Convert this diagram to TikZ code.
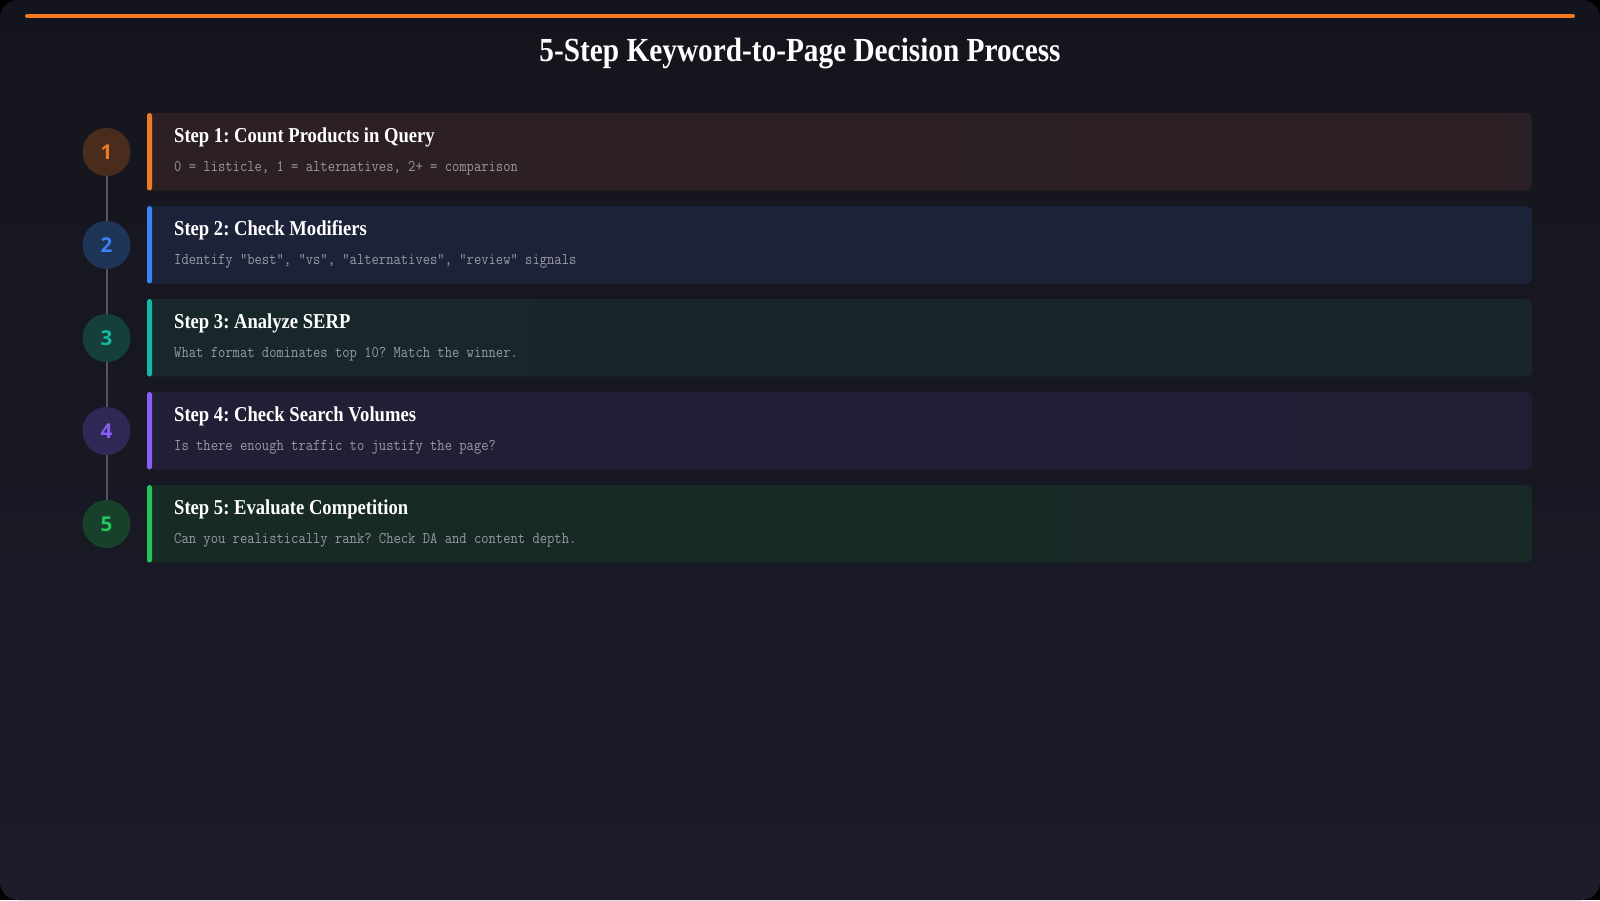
\documentclass[tikz,border=0pt]{standalone}
\usepackage{fontspec}
\setmainfont{Liberation Serif}
\newfontfamily\numfont{Open Sans}
\usetikzlibrary{positioning}
\frenchspacing
\definecolor{bgtop}{HTML}{14151C}
\definecolor{bgbot}{HTML}{1C1B2A}
\definecolor{accO}{HTML}{F07A24}
\definecolor{accB}{HTML}{3B82F6}
\definecolor{accT}{HTML}{14B8A6}
\definecolor{accP}{HTML}{8B5CF6}
\definecolor{accG}{HTML}{22C55E}
\definecolor{cirO}{HTML}{4A2C1D}
\definecolor{cirB}{HTML}{1E3557}
\definecolor{cirT}{HTML}{15403A}
\definecolor{cirP}{HTML}{2F2A55}
\definecolor{cirG}{HTML}{17412B}
\definecolor{cardO}{HTML}{2D2023}
\definecolor{cardB}{HTML}{1C2339}
\definecolor{cardT}{HTML}{17272A}
\definecolor{cardP}{HTML}{221E36}
\definecolor{cardG}{HTML}{172A25}
\definecolor{subgray}{HTML}{9A9AA0}
\definecolor{linegray}{HTML}{55555E}
\tikzset{
  circ/.style={circle, minimum size=48pt, inner sep=0pt, font=\numfont\bfseries\fontsize{20.5}{20}\selectfont},
  steptitle/.style={anchor=base west, inner sep=0pt, text=white, font=\bfseries\fontsize{18.6}{22}\selectfont},
  stepsub/.style={anchor=base west, inner sep=0pt, text=subgray, font=\ttfamily\fontsize{14.2}{16}\selectfont},
  tline/.style={draw=linegray, line width=2pt}
}
\begin{document}
\begin{tikzpicture}[x=1pt,y=-1pt]
\useasboundingbox (0,0) rectangle (1600,900);
\fill[black] (0,0) rectangle (1600,900);
\shade[top color=bgtop, bottom color=bgbot, rounded corners=18pt] (0,0) rectangle (1600,900);
\draw[accO, line width=4pt, line cap=round] (27,16) -- (1573,16);
\node[text=white, font=\bfseries\fontsize{29.3}{32}\selectfont, anchor=base] (title) at (800,61) {\scalebox{1}[1.15]{5-Step Keyword-to-Page Decision Process}};
% cards
\foreach \i/\c/\ca/\t/\s in {
 1/cardO/accO/{Step 1: Count Products in Query}/{0 = listicle, 1 = alternatives, 2+ = comparison},
 2/cardB/accB/{Step 2: Check Modifiers}/{Identify "best", "vs", "alternatives", "review" signals},
 3/cardT/accT/{Step 3: Analyze SERP}/{What format dominates top 10? Match the winner.},
 4/cardP/accP/{Step 4: Check Search Volumes}/{Is there enough traffic to justify the page?},
 5/cardG/accG/{Step 5: Evaluate Competition}/{Can you realistically rank? Check DA and content depth.}}{
  \pgfmathsetmacro{\top}{113+93*(\i-1)}
  \shade[left color=\c, right color=\c!85!bgbot, rounded corners=6pt] (147,\top) rectangle (1532,\top+77.5);
  \fill[\ca, rounded corners=2.5pt] (147,\top) rectangle (152,\top+77.5);
  \node[steptitle] (t\i) at (174,\top+29) {\scalebox{1}[1.14]{\t}};
  \node[stepsub] (s\i) at (174,\top+58) {\scalebox{1}[1.15]{\s}};
}
% timeline connectors
\foreach \i in {1,...,5}{
  \coordinate (cc\i) at (106.5,{152+93*(\i-1)});
}
\draw[tline] (cc1) -- (cc2);
\draw[tline] (cc2) -- (cc3);
\draw[tline] (cc3) -- (cc4);
\draw[tline] (cc4) -- (cc5);
\node[circ, fill=cirO, text=accO] (c1) at (cc1) {1};
\node[circ, fill=cirB, text=accB] (c2) at (cc2) {2};
\node[circ, fill=cirT, text=accT] (c3) at (cc3) {3};
\node[circ, fill=cirP, text=accP] (c4) at (cc4) {4};
\node[circ, fill=cirG, text=accG] (c5) at (cc5) {5};
\end{tikzpicture}
\end{document}
